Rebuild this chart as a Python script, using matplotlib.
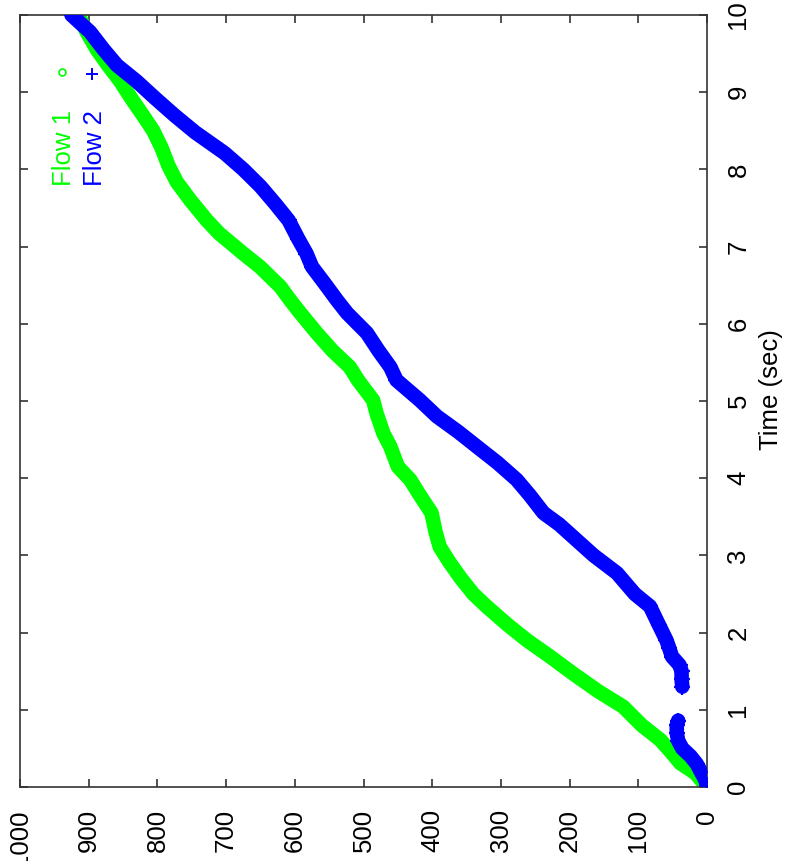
import matplotlib
matplotlib.use("Agg")
import matplotlib.pyplot as plt

plt.rcParams['font.family'] = ['Liberation Sans', 'DejaVu Sans']

# ---- data (value vs time) ----
flow1_time = [0.0, 0.18, 0.31, 0.45, 0.61, 0.80, 1.04, 1.25, 1.47, 1.70, 1.90, 2.10, 2.34, 2.50, 2.70,
              2.90, 3.11, 3.30, 3.55, 3.78, 3.98, 4.15, 4.41, 4.58, 4.84, 5.01, 5.27, 5.44, 5.65, 5.88,
              6.14, 6.31, 6.48, 6.74, 6.91, 7.17, 7.34, 7.60, 7.84, 8.05, 8.28, 8.50, 8.70, 8.92,
              9.14, 9.35, 9.55, 9.78, 10.0]
flow1_val = [0, 17, 39, 52, 68, 95, 122, 160, 195, 230, 262, 290, 321, 340, 358,
             374, 389, 395, 401, 418, 432, 450, 461, 471, 481, 486, 508, 520, 545, 568,
             592, 607, 621, 651, 675, 710, 728, 752, 772, 784, 794, 806, 821, 838,
             854, 872, 888, 903, 915]

flow2a_time = [0.03, 0.10, 0.20, 0.30, 0.40, 0.50, 0.60, 0.70, 0.80, 0.86]
flow2a_val = [0, 3, 9, 15, 24, 36, 42, 44, 44, 42]

flow2b_time = [1.30, 1.40, 1.50, 1.58, 1.69, 1.80, 1.90, 2.10, 2.34, 2.50, 2.77, 3.00, 3.20,
               3.40, 3.55, 3.78, 3.98, 4.20, 4.41, 4.60, 4.80, 5.01, 5.27, 5.44, 5.65, 5.88,
               6.14, 6.31, 6.48, 6.74, 6.91, 7.10, 7.34, 7.55, 7.78, 8.00, 8.21, 8.48, 8.70,
               8.92, 9.14, 9.35, 9.55, 9.78, 10.0]
flow2b_val = [36, 37, 37, 40, 51, 55, 59, 70, 83, 105, 131, 165, 190,
              215, 238, 258, 277, 305, 335, 362, 393, 418, 452, 461, 478, 495,
              524, 539, 553, 575, 583, 595, 609, 628, 650, 675, 702, 745, 775,
              803, 830, 859, 878, 898, 925]

x_ticks = list(range(0, 1001, 100))
y_ticks = list(range(0, 11))

GREEN = '#00ff00'
BLUE = '#0000ff'

fig = plt.figure(figsize=(7.91, 8.61), dpi=100)
W, H = 791, 861
ax = fig.add_axes([20 / W, 1 - 787 / H, 687 / W, 772 / H])

LW = 10.5
ax.plot(flow1_val, flow1_time, color=GREEN, lw=LW, solid_capstyle='round',
        solid_joinstyle='round', zorder=2)
ax.plot(flow1_val, flow1_time, ls='none', marker='o', ms=5, mfc='none', mec=GREEN, mew=1.2, zorder=2)
ax.plot(flow2a_val, flow2a_time, color=BLUE, lw=LW, solid_capstyle='round',
        solid_joinstyle='round', zorder=3)
ax.plot(flow2b_val, flow2b_time, color=BLUE, lw=LW, solid_capstyle='round',
        solid_joinstyle='round', zorder=3)
ax.plot(flow2a_val + flow2b_val, flow2a_time + flow2b_time, ls='none', marker='+',
        ms=12, mew=1.6, color=BLUE, zorder=3)

ax.set_xlim(1000, 0)
ax.set_ylim(0, 10)
ax.set_xticks(x_ticks)
ax.set_yticks(y_ticks)
ax.set_xticklabels([str(v) for v in x_ticks])
ax.set_yticklabels([str(v) for v in y_ticks])

for s in ax.spines.values():
    s.set_color('#333333')
    s.set_linewidth(1.2)

ax.tick_params(axis='x', direction='in', length=6, width=1.2, color='#333333',
               top=True, bottom=True, labelrotation=90, labelsize=18.5, pad=16)
ax.tick_params(axis='y', direction='in', length=6, width=1.2, color='#333333',
               left=True, right=True, labelleft=False, labelright=True,
               labelrotation=90, labelsize=18.5, pad=14)
for lbl in ax.get_yticklabels():
    lbl.set_verticalalignment('center')

# axis title on the right
fig.text(771 / W, 1 - 390 / H, 'Time (sec)', rotation=90, fontsize=18.5,
         ha='center', va='center')

# legend (rotated, like the reference)
fig.text(64 / W, 1 - 186 / H, 'Flow 1', rotation=90, color=GREEN, fontsize=18.5,
         ha='center', va='bottom')
fig.text(95 / W, 1 - 186 / H, 'Flow 2', rotation=90, color=BLUE, fontsize=18.5,
         ha='center', va='bottom')
fig.lines.append(plt.Line2D([62 / W], [1 - 72 / H], transform=fig.transFigure, ls='none',
                            marker='o', ms=5, mfc='none', mec=GREEN, mew=1.2))
fig.lines.append(plt.Line2D([92 / W], [1 - 74 / H], transform=fig.transFigure, ls='none',
                            marker='+', ms=9, mew=1.4, color=BLUE))

fig.savefig('out.png', dpi=100)
